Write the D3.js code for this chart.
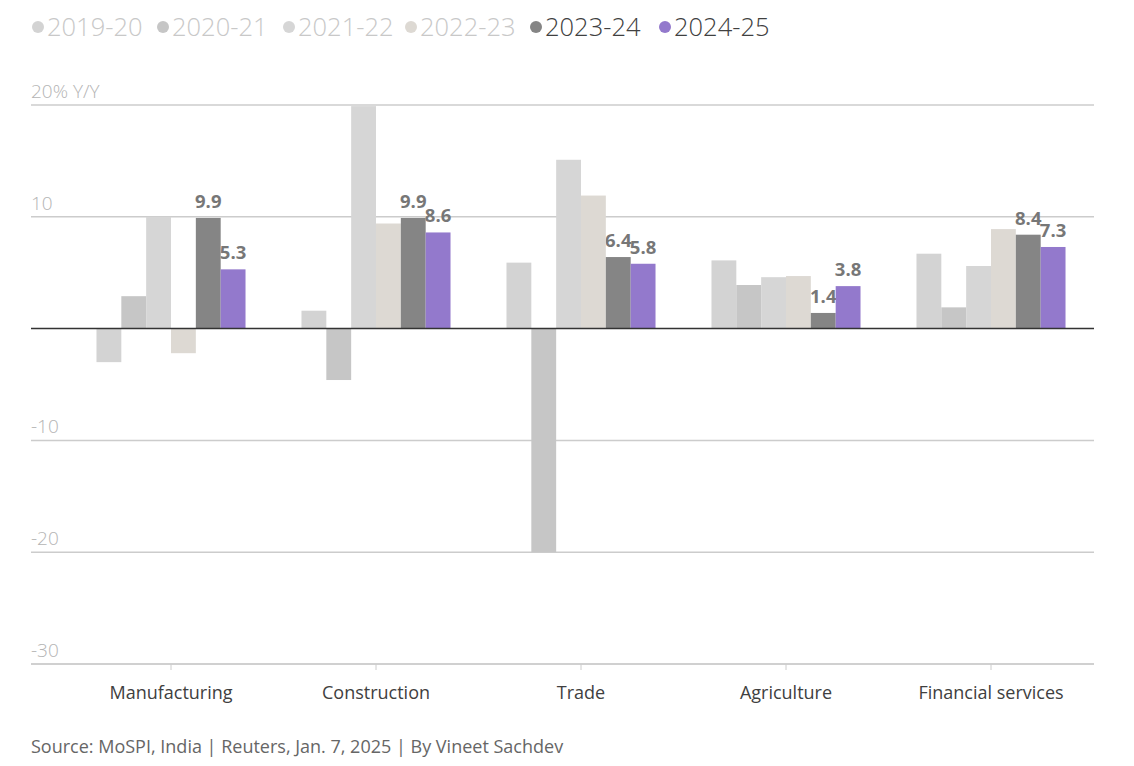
<!DOCTYPE html>
<html>
<head>
<meta charset="utf-8">
<script src="https://cdn.jsdelivr.net/npm/d3@7"></script>
<style>
  html, body { margin: 0; padding: 0; background: #fff; }
  svg { display: block; font-family: "Open Sans", "Noto Sans", sans-serif; }
</style>
</head>
<body>
<svg id="chart" width="1134" height="766"></svg>
<script>
const categories = ["Manufacturing", "Construction", "Trade", "Agriculture", "Financial services"];
const seriesNames = ["2019-20", "2020-21", "2021-22", "2022-23", "2023-24", "2024-25"];
const seriesColors = ["#d3d3d3", "#c6c6c6", "#d6d6d6", "#ddd9d3", "#858585", "#9379cc"];
const legendTextColors = ["#c8c8c8", "#c8c8c8", "#c8c8c8", "#c8c8c8", "#404040", "#404040"];
const values_2019_20 = [-3.0, 1.6, 5.9, 6.1, 6.7];
const values_2020_21 = [2.9, -4.6, -20.0, 3.9, 1.9];
const values_2021_22 = [10.0, 19.9, 15.1, 4.6, 5.6];
const values_2022_23 = [-2.2, 9.4, 11.9, 4.7, 8.9];
const values_2023_24 = [9.9, 9.9, 6.4, 1.4, 8.4];
const values_2024_25 = [5.3, 8.6, 5.8, 3.8, 7.3];
const allValues = [values_2019_20, values_2020_21, values_2021_22, values_2022_23, values_2023_24, values_2024_25];
const labelledSeries = ["2023-24", "2024-25"];
const yTicks = [20, 10, 0, -10, -20, -30];
const yTickLabels = ["20% Y/Y", "10", "", "-10", "-20", "-30"];
const sourceText = "Source: MoSPI, India | Reuters, Jan. 7, 2025 | By Vineet Sachdev";

const svg = d3.select("#chart");
const left = 31, right = 1094;

const y = d3.scaleLinear().domain([-30, 20]).range([664, 105]);
const x0 = d3.scaleBand().domain(categories).range([68.5, 1093.5]).paddingInner(0.273).paddingOuter(0.1365);
const x1 = d3.scaleBand().domain(seriesNames).range([0, x0.bandwidth()]).padding(0);

// gridlines
const grid = svg.append("g");
grid.selectAll("line").data(yTicks.filter(t => t !== 0)).join("line")
  .attr("x1", left).attr("x2", right)
  .attr("y1", d => y(d)).attr("y2", d => y(d))
  .attr("stroke", "#cccccc").attr("stroke-width", 1.5);

// y tick labels
svg.append("g").selectAll("text").data(yTicks.map((t, i) => ({t, label: yTickLabels[i]})).filter(d => d.label)).join("text")
  .attr("x", left).attr("y", d => y(d.t) - 7)
  .attr("font-size", 19).attr("font-weight", 300).attr("fill", "#b4b4b4")
  .text(d => d.label);

// x axis ticks (bottom)
const xAxis = d3.axisBottom(x0).tickSize(6).tickPadding(14).tickSizeOuter(0);
const gx = svg.append("g").attr("transform", `translate(0,${y(-30)})`).call(xAxis);
gx.select(".domain").remove();
gx.selectAll(".tick line").attr("stroke", "#cccccc").attr("stroke-width", 1)
  .attr("transform", d => `translate(${x0.bandwidth() / 2},0)`);
gx.selectAll(".tick").attr("transform", d => `translate(${x0(d)},0)`);
gx.selectAll(".tick text")
  .attr("x", x0.bandwidth() / 2)
  .attr("dy", 0).attr("y", 35)
  .attr("font-family", "'Open Sans', sans-serif")
  .attr("font-size", 18).attr("font-weight", 400).attr("fill", "#404040");

// data structure
const data = categories.map((c, ci) => ({
  category: c,
  items: seriesNames.map((s, si) => ({ series: s, si, value: allValues[si][ci] }))
}));

const groups = svg.append("g").selectAll("g").data(data).join("g")
  .attr("transform", d => `translate(${x0(d.category)},0)`);

// labels first (drawn beneath bars)
groups.selectAll("text.val").data(d => d.items.filter(it => labelledSeries.includes(it.series))).join("text")
  .attr("class", "val")
  .attr("x", d => x1(d.series) + x1.bandwidth() / 2)
  .attr("y", d => y(Math.max(0, d.value)) - 10)
  .attr("text-anchor", "middle")
  .attr("font-size", 18.5).attr("font-weight", 700).attr("fill", "#777777")
  .text(d => d3.format(".1f")(d.value));

groups.selectAll("rect").data(d => d.items).join("rect")
  .attr("x", d => x1(d.series))
  .attr("width", x1.bandwidth())
  .attr("y", d => y(Math.max(0, d.value)))
  .attr("height", d => Math.abs(y(d.value) - y(0)))
  .attr("fill", d => seriesColors[d.si]);

// zero line and bottom axis line
svg.append("line").attr("x1", left).attr("x2", right).attr("y1", y(0)).attr("y2", y(0))
  .attr("stroke", "#333333").attr("stroke-width", 1.5);
svg.append("line").attr("x1", left).attr("x2", right).attr("y1", y(-30)).attr("y2", y(-30))
  .attr("stroke", "#cccccc").attr("stroke-width", 1.5);

// legend
const legendX = [38, 163, 289, 411, 536, 665];
const legend = svg.append("g").selectAll("g").data(seriesNames).join("g")
  .attr("transform", (d, i) => `translate(${legendX[i]},27)`);
legend.append("circle").attr("r", 6).attr("fill", (d, i) => seriesColors[i]);
legend.append("text").attr("x", 9).attr("y", 9)
  .attr("font-size", 25.5).attr("font-weight", 300)
  .attr("fill", (d, i) => legendTextColors[i])
  .text(d => d);

// source
svg.append("text").attr("x", left).attr("y", 753)
  .attr("font-size", 18).attr("font-weight", 400).attr("fill", "#666666")
  .text(sourceText);
</script>
</body>
</html>
